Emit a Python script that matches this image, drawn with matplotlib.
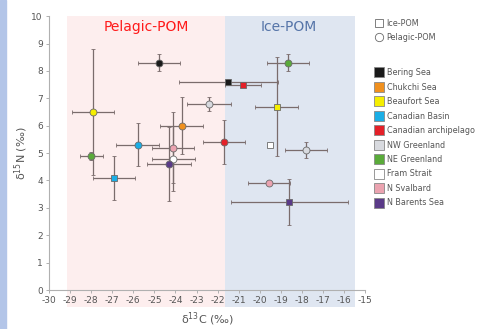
import numpy
from matplotlib import pyplot
from matplotlib.lines import Line2D
from matplotlib.patches import Rectangle

pyplot.rcParams['axes.unicode_minus'] = False

# region colours (legend order)
regions = ['Bering Sea', 'Chukchi Sea', 'Beaufort Sea', 'Canadian Basin',
           'Canadian archipelago', 'NW Greenland', 'NE Greenland',
           'Fram Strait', 'N Svalbard', 'N Barents Sea']
region_colors = ['#1a1a1a', '#f0901e', '#f5ee00', '#1aaee6', '#e42028',
                 '#d8dadf', '#5aab3a', '#ffffff', '#eba3b0', '#5a3a88']

# Pelagic-POM (circles)
pel_region = ['Bering Sea', 'Beaufort Sea', 'NE Greenland', 'Canadian Basin',
              'Chukchi Sea', 'N Svalbard', 'Fram Strait', 'N Barents Sea',
              'NW Greenland', 'Canadian archipelago', 'NE Greenland',
              'NW Greenland', 'N Svalbard']
pel_c = [-24.8, -27.9, -28.0, -25.8, -23.7, -24.1, -24.1, -24.3, -22.4, -21.7, -18.65, -17.8, -19.55]
pel_n = [8.3, 6.5, 4.9, 5.3, 6.0, 5.2, 4.8, 4.6, 6.8, 5.4, 8.3, 5.1, 3.9]
pel_c_err = [1.0, 1.0, 0.55, 1.0, 1.03, 1.0, 1.03, 1.03, 1.03, 1.0, 1.0, 1.0, 1.0]
pel_n_err = [0.3, 2.3, 0.15, 0.78, 1.05, 1.3, 1.2, 1.35, 0.25, 0.8, 0.3, 0.29, 0.05]

# Ice-POM (squares)
ice_region = ['Canadian Basin', 'Bering Sea', 'Canadian archipelago',
              'Beaufort Sea', 'Fram Strait', 'N Barents Sea']
ice_c = [-26.9, -21.5, -20.8, -19.2, -19.5, -18.6]
ice_n = [4.1, 7.6, 7.5, 6.7, 5.3, 3.2]
ice_c_err = [1.0, 2.35, 0.85, 1.02, 0.0, 2.77]
ice_n_err = [0.8, 0.1, 0.1, 1.8, 0.0, 0.84]

color_of = dict(zip(regions, region_colors))
err_color = '#7a6c6c'
edge_color = '#6a6a6a'
text_color = '#555555'

fig = pyplot.figure(figsize=(4.81, 3.29), dpi=100)
ax = fig.add_axes([0.102, 0.1185, 0.657, 0.8325])

# left edge stripe of the original slide
fig.patches.append(Rectangle((0, 0), 0.012, 1, transform=fig.transFigure,
                             color='#b3c5e8', zorder=0))

# shaded zones, running down over the tick labels
ax.add_patch(Rectangle((-29.15, -0.62), 7.5, 10.62, facecolor='#fdeeee',
                       edgecolor='none', clip_on=False, zorder=0))
ax.add_patch(Rectangle((-21.65, -0.62), 6.15, 10.62, facecolor='#dfe6f1',
                       edgecolor='none', clip_on=False, zorder=0))
ax.text(-25.4, 9.6, 'Pelagic-POM', color='#ff1a1a', fontsize=10,
        ha='center', va='center')
ax.text(-18.6, 9.6, 'Ice-POM', color='#5574a8', fontsize=10,
        ha='center', va='center')

for i in range(len(pel_c)):
    ax.errorbar(pel_c[i], pel_n[i], xerr=pel_c_err[i], yerr=pel_n_err[i],
                fmt='o', ms=5, mfc=color_of[pel_region[i]], mec=edge_color,
                mew=0.6, ecolor=err_color, elinewidth=0.9, capsize=1.5,
                capthick=0.9, zorder=3)

for i in range(len(ice_c)):
    ax.errorbar(ice_c[i], ice_n[i], xerr=ice_c_err[i], yerr=ice_n_err[i],
                fmt='s', ms=5, mfc=color_of[ice_region[i]], mec=edge_color,
                mew=0.6, ecolor=err_color, elinewidth=0.9, capsize=1.5,
                capthick=0.9, zorder=3)

ax.set_xlim(-30, -15)
ax.set_ylim(0, 10)
ax.set_xticks(numpy.arange(-30, -14, 1))
ax.set_yticks(numpy.arange(0, 11, 1))
for side in ['top', 'right']:
    ax.spines[side].set_visible(False)
for side in ['left', 'bottom']:
    ax.spines[side].set_color('#b0b0b0')
ax.tick_params(colors='#b0b0b0', labelcolor=text_color, labelsize=6.5,
               length=2.5, width=0.7, pad=2)
ax.set_facecolor('none')

ax.set_xlabel('δ$^{13}$C (‰)', fontsize=8, color=text_color, labelpad=4)
ax.set_ylabel('δ$^{15}$N (‰)', fontsize=8, color=text_color, labelpad=1)

# legends
shape_handles = [
    Line2D([], [], ls='none', marker='s', ms=6, mfc='white', mec=edge_color, mew=0.6),
    Line2D([], [], ls='none', marker='o', ms=6, mfc='white', mec=edge_color, mew=0.6),
]
fig.legend(shape_handles, ['Ice-POM', 'Pelagic-POM'], loc='upper left',
           bbox_to_anchor=(0.762, 0.965), frameon=False, fontsize=5.8,
           handletextpad=0.4, labelspacing=0.6, handlelength=1.2,
           labelcolor=text_color)

region_handles = [Line2D([], [], ls='none', marker='s', ms=6.5, mfc=c,
                         mec='#888888', mew=0.6) for c in region_colors]
fig.legend(region_handles, regions, loc='upper left',
           bbox_to_anchor=(0.762, 0.815), frameon=False, fontsize=5.8,
           handletextpad=0.4, labelspacing=0.68, handlelength=1.2,
           labelcolor=text_color)

fig.savefig('out.png', dpi=100)
